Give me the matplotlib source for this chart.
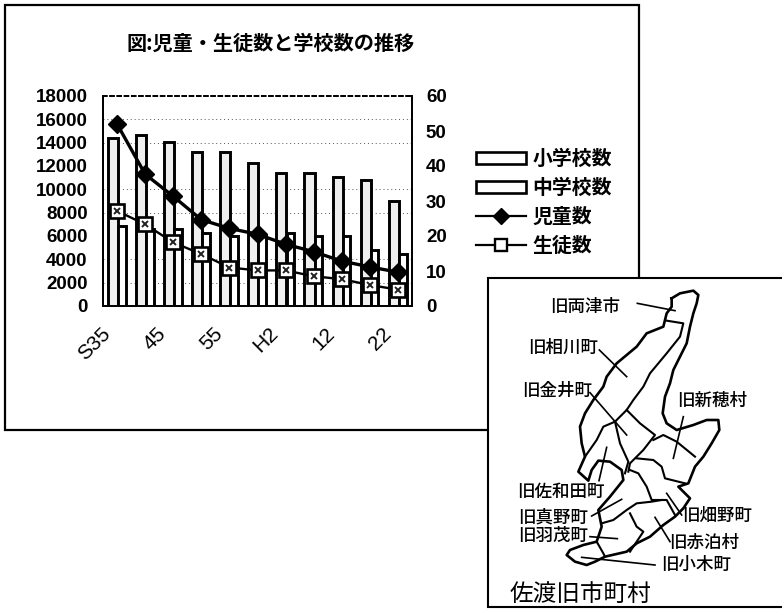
import matplotlib
matplotlib.use("Agg")
from matplotlib import pyplot as plt
from matplotlib.lines import Line2D
from matplotlib.patches import Patch, Rectangle
import numpy as np

plt.rcParams['font.family'] = ['Noto Sans CJK JP', 'DejaVu Sans']

years = ['S35', '40', '45', '50', '55', '60', 'H2', '7', '12', '17', '22']
elementary_schools = [48, 49, 47, 44, 44, 41, 38, 38, 37, 36, 30]
junior_schools = [23, 22, 22, 21, 20, 20, 21, 20, 20, 16, 15]
pupils = [15600, 11300, 9400, 7400, 6650, 6150, 5300, 4650, 3850, 3350, 2900]
students = [8150, 7000, 5450, 4450, 3300, 3050, 3050, 2550, 2300, 1800, 1400]
left_ticks = list(range(0, 18001, 2000))
right_ticks = list(range(0, 61, 10))

# map of sado
coast = [(575, 85), (600, 70), (640, 62), (655, 75), (650, 100), (640, 130), (630, 170), (620, 220),
         (600, 260), (580, 300), (570, 340), (555, 380), (548, 430), (560, 460), (590, 480), (640, 465),
         (680, 450), (715, 450), (718, 480), (695, 520), (670, 560), (645, 590), (625, 640), (595, 650),
         (630, 685), (610, 715), (585, 740), (550, 765), (510, 800), (470, 820), (440, 845), (375, 860),
         (345, 875), (320, 885), (285, 875), (260, 855), (270, 840), (310, 825), (350, 815), (365, 770),
         (355, 720), (390, 680), (430, 630), (425, 600), (390, 575), (355, 572), (335, 600), (325, 632),
         (295, 605), (315, 560), (305, 520), (300, 470), (315, 430), (340, 390), (370, 350), (380, 320),
         (410, 280), (470, 230), (500, 190), (550, 170), (560, 130), (575, 110), (575, 85)]
borders = [
    [(560, 152), (610, 160), (600, 200), (560, 250), (510, 310), (490, 350), (460, 390), (440, 420), (405, 455)],
    [(440, 420), (480, 460), (525, 495), (490, 540), (450, 580), (445, 605)],
    [(405, 455), (370, 470), (350, 510), (315, 560)],
    [(405, 455), (420, 520), (445, 575), (435, 610)],
    [(520, 510), (550, 495), (590, 515), (645, 560)],
    [(470, 565), (520, 570), (545, 590), (555, 625), (615, 640)],
    [(450, 600), (475, 610), (500, 650), (515, 690), (560, 690), (585, 735)],
    [(365, 760), (400, 750), (440, 720), (470, 700), (515, 695), (545, 690)],
    [(450, 730), (470, 770), (490, 785), (450, 845)],
    [(350, 815), (370, 850), (375, 860)],
]
leaders = [
    [(472, 100), (585, 122)], [(358, 240), (440, 320)], [(330, 368), (440, 495)], [(610, 440), (580, 565)],
    [(380, 532), (357, 632)], [(335, 738), (425, 688)], [(330, 800), (412, 806)], [(305, 862), (525, 885)],
    [(560, 670), (605, 735)], [(525, 742), (570, 815)],
]
map_labels = ['旧両津市', '旧相川町', '旧金井町', '旧新穂村', '旧佐和田町', '旧真野町', '旧羽茂町', '旧畑野町', '旧赤泊村', '旧小木町']
label_x = [210, 145, 125, 590, 110, 115, 115, 605, 568, 542]
label_y = [112, 232, 362, 392, 665, 742, 798, 738, 820, 885]

W, H = 782, 616
fig = plt.figure(figsize=(W / 100, H / 100), dpi=100)
fig.add_artist(Rectangle((5 / W, 1 - 430 / H), 634 / W, 425 / H, transform=fig.transFigure,
                         fc='white', ec='black', lw=1.6, zorder=-1))

ax = fig.add_axes([103 / W, 1 - 306 / H, 309 / W, 210 / H])
ax2 = ax.twinx()
ax.set_zorder(ax2.get_zorder() + 1)
ax.patch.set_visible(False)

x = np.arange(len(years))
ax2.bar(x - 0.15, elementary_schools, 0.36, fc='#efefef', ec='black', lw=2.1, zorder=3)
ax2.bar(x + 0.17, junior_schools, 0.27, fc='white', ec='black', lw=2.1, zorder=3)
ax2.set_yticks(np.array(left_ticks) / 300, minor=True)
ax2.grid(which='minor', axis='y', color='#555555', lw=0.7, ls=(0, (1, 3)))
ax2.set_axisbelow(True)
ax2.tick_params(which='minor', length=0)

ax.plot(x, pupils, color='black', lw=2.4, marker='D', ms=9.5, mfc='black', mec='black', zorder=5)
ax.plot(x, students, color='black', lw=1.7, marker='s', ms=10.5, mfc='white', mec='black', mew=1.9, zorder=5)
ax.plot(x, students, ls='none', color='#222222', marker='x', ms=5, mew=1.4, zorder=6)

ax.set_xlim(-0.5, len(years) - 0.5)
ax.set_ylim(0, 18000)
ax2.set_ylim(0, 60)
ax.set_yticks(left_ticks)
ax2.set_yticks(right_ticks)
ax.set_xticks([])
# labels sit well left of their category, so place them by hand
for xi, name in zip(x[::2], years[::2]):
    ax.annotate(name, xy=(xi, 0), xycoords=ax.get_xaxis_transform(), xytext=(-12, -13),
                textcoords='offset points', rotation=45, ha='right', va='top', rotation_mode='anchor',
                fontsize=15, fontfamily='Liberation Sans')
ax.tick_params(axis='y', length=0, pad=11, labelsize=13.5)
ax2.tick_params(axis='y', length=0, pad=10, labelsize=13.5)
for lab in ax.get_yticklabels() + ax2.get_yticklabels():
    lab.set_fontfamily('Liberation Sans')
    lab.set_fontweight('bold')
for a in (ax, ax2):
    for s in a.spines.values():
        s.set_linewidth(1.3)
    a.spines['top'].set_linestyle((0, (2, 2)))

fig.text(271 / W, 1 - 43 / H, '図:児童・生徒数と学校数の推移', fontsize=14.5, fontweight='bold',
         ha='center', va='center')

handles = [
    Patch(fc='white', ec='black', lw=1.9),
    Patch(fc='white', ec='black', lw=1.9),
    Line2D([], [], color='black', lw=1.6, marker='D', ms=8, mfc='black'),
    Line2D([], [], color='black', lw=1.6, marker='s', ms=8, mfc='white', mew=1.7),
]
fig.legend(handles, ['小学校数', '中学校数', '児童数', '生徒数'], loc='upper left',
           bbox_to_anchor=(460 / W, 1 - 132 / H), frameon=False,
           prop={'size': 14.3, 'weight': 'bold'}, handlelength=2.5, handleheight=0.55,
           labelspacing=0.40, handletextpad=0.35, borderpad=0.3)

# inset map, axes units are 1/3 px
m = fig.add_axes([480 / W, 0, 302 / W, 346 / H])
m.set_xlim(0, 906)
m.set_ylim(1038, 0)
m.axis('off')
m.add_patch(Rectangle((25, 25), 900, 985, fc='white', ec='black', lw=1.5, clip_on=True))
m.plot(*zip(*coast), color='black', lw=1.9)
for b in borders:
    m.plot(*zip(*b), color='black', lw=1.5)
for l in leaders:
    m.plot(*zip(*l), color='black', lw=1.2)
for name, lx, ly in zip(map_labels, label_x, label_y):
    m.text(lx, ly, name, fontsize=12.6, fontweight='medium', ha='left', va='center')
m.text(90, 972, '佐渡旧市町村', fontsize=17, ha='left', va='center')

fig.savefig('out.png', dpi=100)
